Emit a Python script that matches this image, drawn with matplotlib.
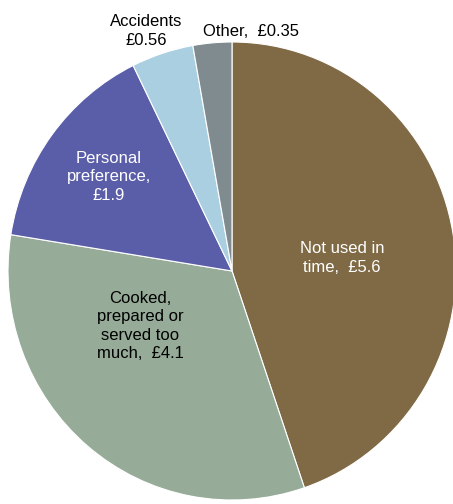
import matplotlib.pyplot as plt

categories = ["Not used in\ntime,  £5.6", "Cooked,\nprepared or\nserved too\nmuch,  £4.1",
              "Personal\npreference,\n£1.9", "Accidents\n£0.56", "Other,  £0.35"]
values = [5.6, 4.1, 1.9, 0.56, 0.35]
colors = ["#7f6a45", "#96ab98", "#5a5ea8", "#a9cfe1", "#7f8b8f"]

plt.rcParams['font.family'] = ['Liberation Sans', 'DejaVu Sans']

W, H = 453, 504
cx, cy = 232, 271     # pie centre in pixels from top-left
rx, ry = 224, 229     # slightly taller than wide, like the original

fig = plt.figure(figsize=(W / 100, H / 100), dpi=100)
ax = fig.add_axes([0, 0, 1, 1])
ax.pie(values, colors=colors, startangle=90, counterclock=False, radius=1,
       center=(0, 0), wedgeprops=dict(linewidth=0.8, edgecolor="white"))
ax.set_xlim(-cx / rx, (W - cx) / rx)
ax.set_ylim(-(H - cy) / ry, cy / ry)
ax.set_aspect("auto")
ax.axis("off")

# label placement (pixel coords from top-left)
label_pos = [(342, 258, "white"), (140, 326, "black"), (109, 177, "white"),
             (146, 31, "black"), (251, 32, "black")]
for text, (x, y, c) in zip(categories, label_pos):
    ax.text((x - cx) / rx, (cy - y) / ry, text, ha="center", va="center",
            fontsize=12, color=c, linespacing=1.3)

fig.savefig("out.png", dpi=100)
